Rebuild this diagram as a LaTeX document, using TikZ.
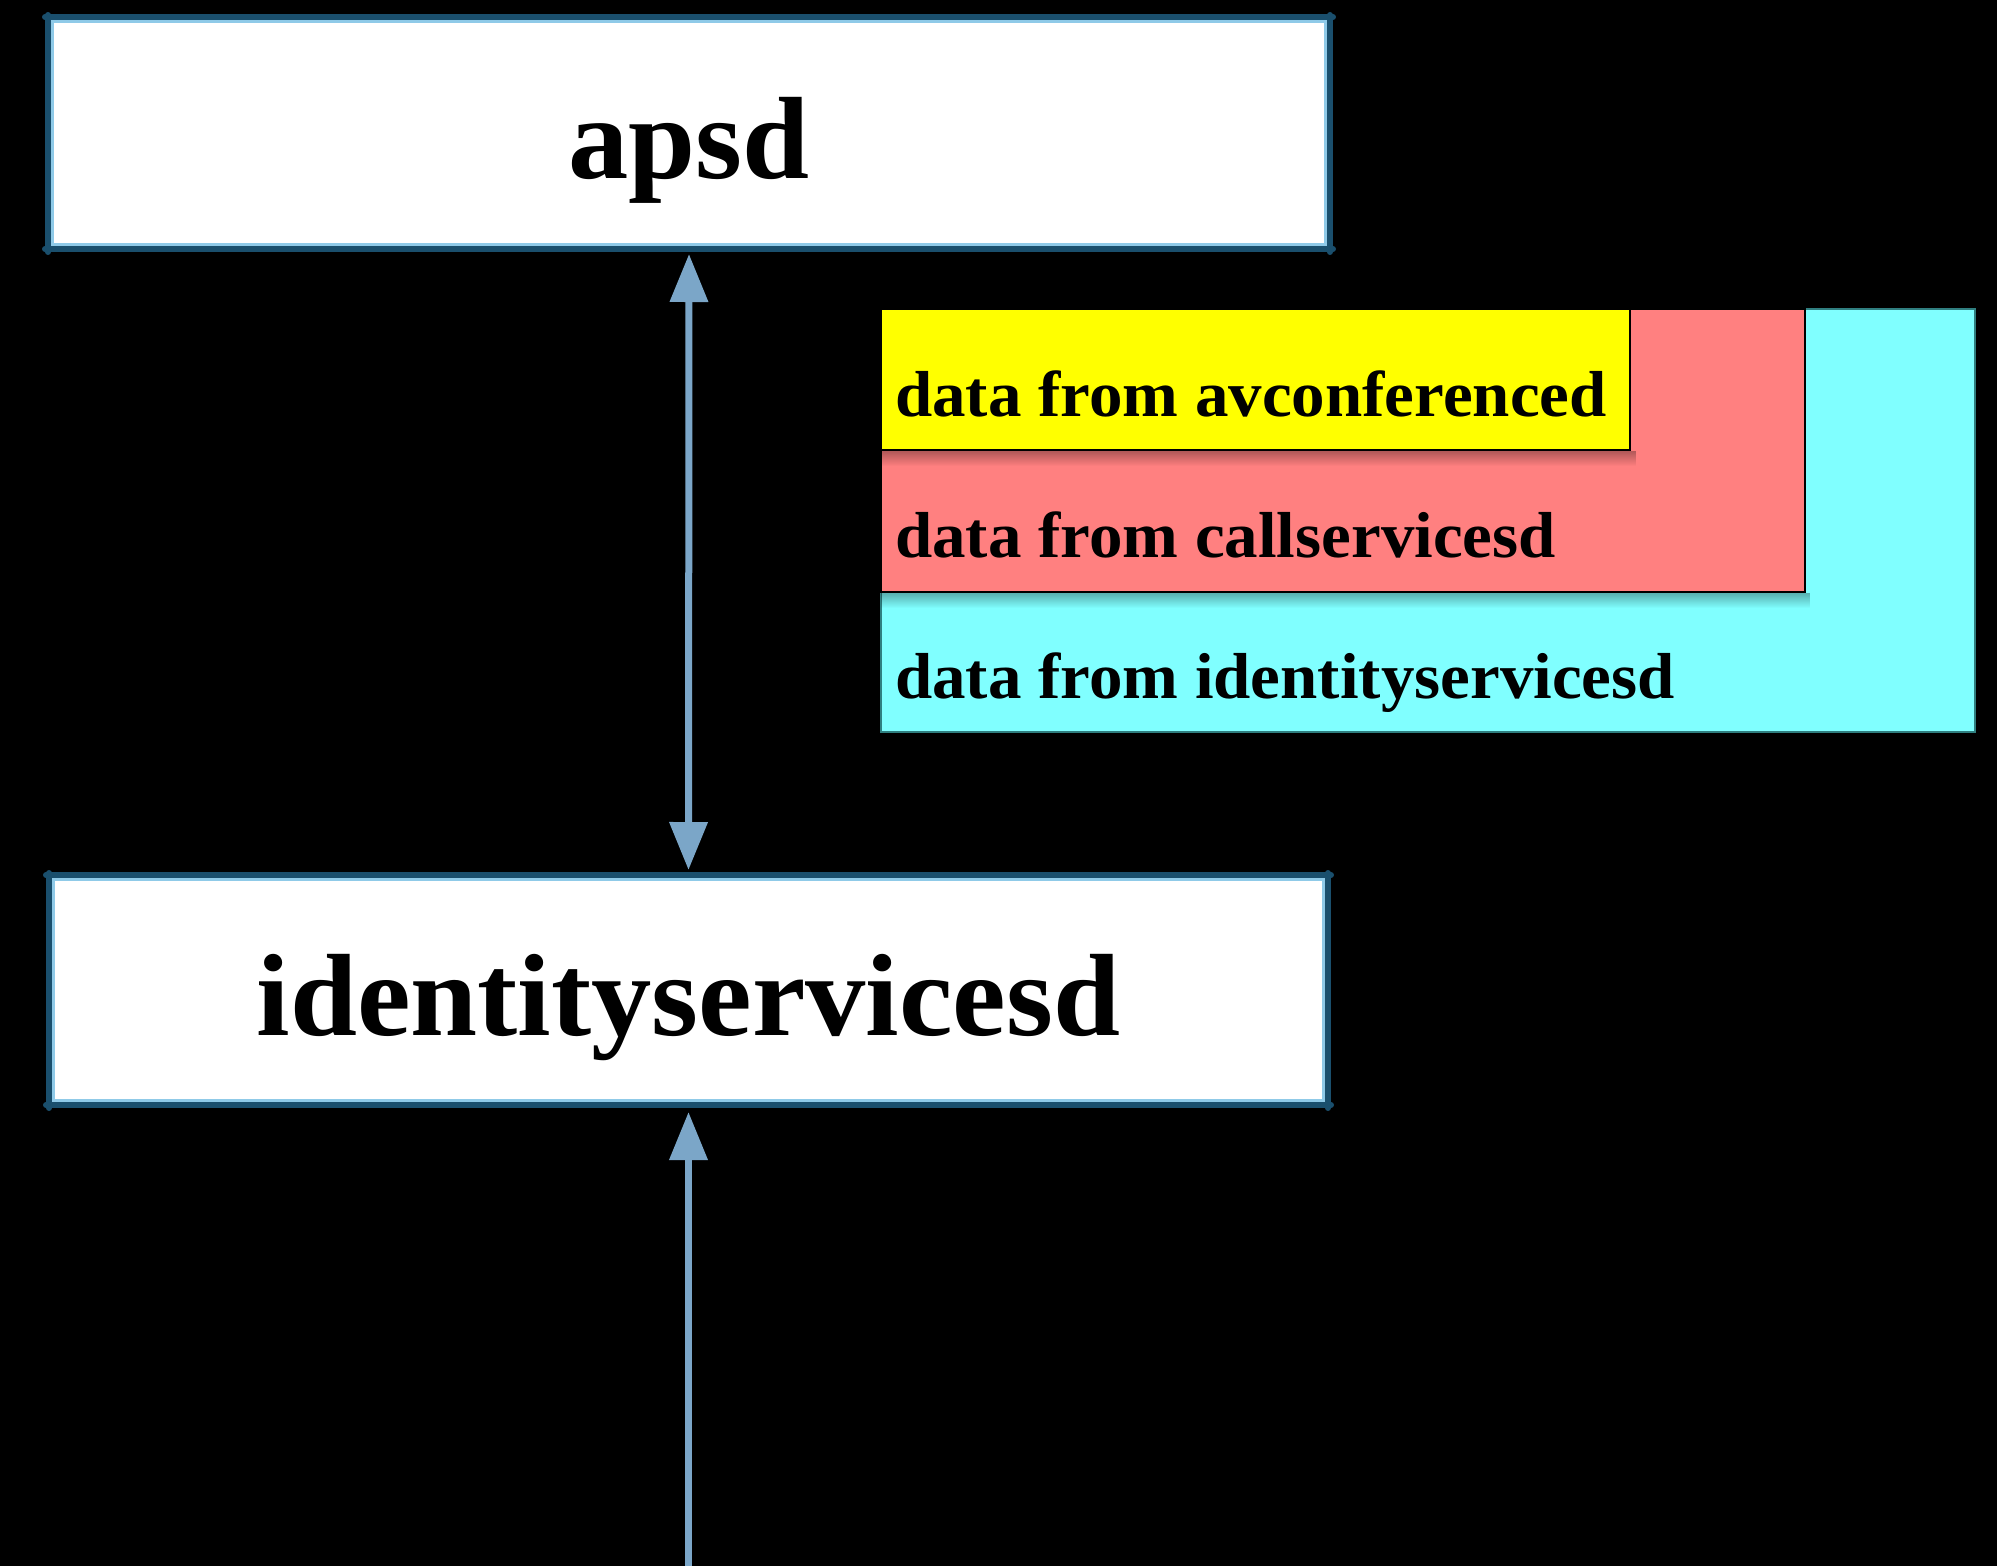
\documentclass[tikz,border=0pt]{standalone}
\usepackage{fontspec}
\setmainfont{Liberation Serif}[FakeStretch=1.03]
\usetikzlibrary{arrows.meta,fadings}

\definecolor{edgedark}{HTML}{1A4F6D}
\definecolor{edgelight}{HTML}{8FCAE8}
\definecolor{arrowblue}{HTML}{7BA6C8}
\definecolor{avyellow}{HTML}{FFFF00}
\definecolor{callred}{HTML}{FF8080}
\definecolor{idcyan}{HTML}{80FFFF}
\definecolor{idcyanedge}{HTML}{2F7F80}

\tikzset{bigtri/.tip={Triangle[width=37pt,length=48pt]}}

\begin{document}
\begin{tikzpicture}[x=1pt,y=-1pt,
  procbox/.style={rectangle, fill=white, draw=none, inner sep=0pt, outer sep=0pt,
    text height=100pt, text depth=10pt,
    font=\bfseries\fontsize{117}{130}\selectfont},
  edgeline/.style={draw=edgedark, line width=6pt, line cap=round},
  inneredge/.style={draw=edgelight, line width=3pt},
  layerbox/.style={rectangle, anchor=north west, inner sep=0pt, outer sep=0pt,
    draw=black, line width=2.5pt},
  layertext/.style={anchor=base west, inner sep=0pt,
    font=\bfseries\fontsize{65}{75}\selectfont},
  softshadow/.style={fill=black, opacity=0.3, path fading=south},
  conn/.style={draw=arrowblue, line width=7pt},
]
% canvas
\fill[black] (0,0) rectangle (1997,1566);
\useasboundingbox (0,0) rectangle (1997,1566);

% process boxes
\node[procbox, minimum width=1282pt, minimum height=232pt] (apsd) at (689,133) {apsd};
\node[procbox, minimum width=1279pt, minimum height=230pt] (ids) at (688.5,990) {identityservicesd};

\foreach \b in {apsd,ids}{
  \draw[inneredge] ([shift={(4.5pt,-4.5pt)}]\b.north west) rectangle ([shift={(-4.5pt,4.5pt)}]\b.south east);
  \draw[edgeline] ([xshift=-3pt]\b.north west) -- ([xshift=3pt]\b.north east);
  \draw[edgeline] ([xshift=-3pt]\b.south west) -- ([xshift=3pt]\b.south east);
  \draw[edgeline] ([yshift=2pt]\b.north west) -- ([yshift=-3pt]\b.south west);
  \draw[edgeline] ([yshift=2pt]\b.north east) -- ([yshift=-3pt]\b.south east);
}

% stacked data layers
\node[layerbox, fill=idcyan, draw=idcyanedge, line width=1.2pt, minimum width=1094pt, minimum height=423pt] (idlayer) at (881,309) {};
\node[layerbox, fill=callred, minimum width=924pt, minimum height=283pt] (calllayer) at (881,309) {};
\fill[softshadow]
  ([yshift=-1.25pt]calllayer.south west) rectangle ([shift={(6pt,-16pt)}]calllayer.south east);
\node[layerbox, fill=avyellow, minimum width=749pt, minimum height=141pt] (avlayer) at (881,309) {};
\fill[softshadow]
  ([yshift=-1.25pt]avlayer.south west) rectangle ([shift={(6pt,-16pt)}]avlayer.south east);

\node[layertext] (avtext) at (895,416) {data from avconferenced};
\node[layertext] (calltext) at (895,557) {data from callservicesd};
\node[layertext] (idtext) at (895,698) {data from identityservicesd};

% connectors
\draw[conn, bigtri-bigtri, shorten <=5pt, shorten >=5pt] (apsd.south) -- (ids.north);
\coordinate (feed) at ([yshift=-470pt]ids.south);
\draw[conn, -bigtri, shorten >=7pt] (feed) -- (ids.south);
\end{tikzpicture}
\end{document}
